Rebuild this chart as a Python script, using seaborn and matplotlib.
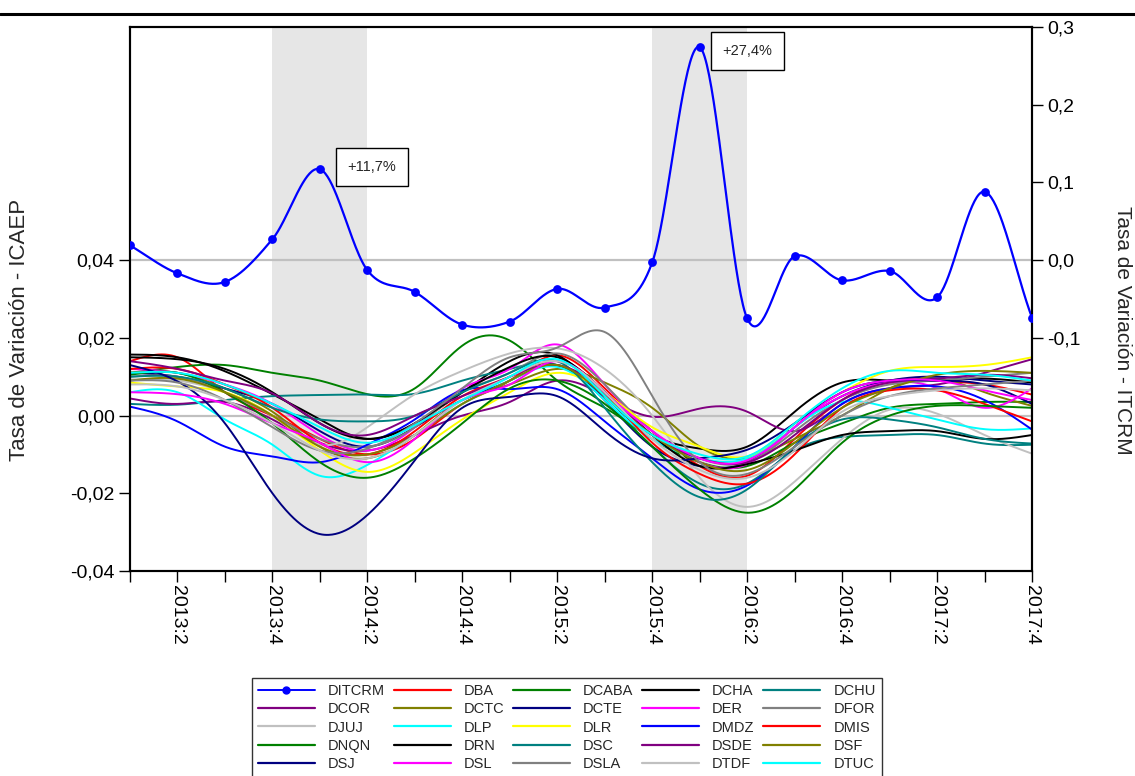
import numpy as np
import pandas as pd
import matplotlib
matplotlib.use("Agg")
import matplotlib.pyplot as plt
from matplotlib.lines import Line2D
from matplotlib.ticker import FuncFormatter, FixedLocator
import seaborn as sns

# ---------------- data ----------------
quarters = ["2013:1", "2013:2", "2013:3", "2013:4", "2014:1", "2014:2", "2014:3", "2014:4",
            "2015:1", "2015:2", "2015:3", "2015:4", "2016:1", "2016:2", "2016:3", "2016:4",
            "2017:1", "2017:2", "2017:3", "2017:4"]

DITCRM = [0.019, -0.017, -0.028, 0.027, 0.117, -0.013, -0.041, -0.083, -0.079, -0.037,
          -0.061, -0.003, 0.274, -0.075, 0.005, -0.026, -0.014, -0.048, 0.088, -0.074]

DBA   = [0.014, 0.015, 0.006, 0.000, -0.006, -0.010, -0.006, 0.003, 0.009, 0.0155, 0.007, -0.004, -0.013, -0.0155, -0.006, 0.004, 0.009, 0.009, 0.008, 0.0054]
DCABA = [0.011, 0.0125, 0.013, 0.011, 0.009, 0.0055, 0.007, 0.018, 0.0193, 0.009, 0.002, -0.006, -0.012, -0.013, -0.007, -0.002, 0.002, 0.003, 0.0035, 0.0035]
DCHA  = [0.0157, 0.015, 0.0114, 0.0055, -0.001, -0.006, -0.002, 0.006, 0.014, 0.0155, 0.005, -0.005, -0.0085, -0.008, 0.001, 0.0085, 0.009, 0.009, 0.0095, 0.0085]
DCHU  = [0.003, 0.0028, 0.004, 0.005, 0.0053, 0.0054, 0.0056, 0.009, 0.012, 0.013, 0.004, -0.008, -0.0175, -0.0175, -0.009, -0.0055, -0.005, -0.005, -0.0072, -0.0075]
DCOR  = [0.0044, 0.003, 0.0035, -0.001, -0.007, -0.009, -0.005, 0.000, 0.0035, 0.009, 0.005, -0.0003, 0.0018, 0.001, -0.004, 0.003, 0.007, 0.008, 0.011, 0.0145]
DCTC  = [0.011, 0.011, 0.007, 0.001, -0.008, -0.011, -0.005, 0.004, 0.008, 0.012, 0.0085, 0.002, -0.008, -0.011, -0.006, 0.000, 0.007, 0.0095, 0.006, 0.0025]
DCTE  = [0.011, 0.010, 0.007, 0.003, -0.004, -0.008, -0.003, 0.004, 0.009, 0.013, 0.004, -0.008, -0.013, -0.012, -0.003, 0.005, 0.009, 0.010, 0.009, 0.008]
DER   = [0.012, 0.011, 0.008, 0.003, -0.005, -0.009, -0.003, 0.007, 0.012, 0.0183, 0.008, -0.004, -0.012, -0.0125, -0.003, 0.005, 0.0085, 0.007, 0.002, 0.007]
DFOR  = [0.010, 0.010, 0.006, 0.000, -0.006, -0.008, -0.003, 0.006, 0.011, 0.016, 0.008, -0.004, -0.011, -0.012, -0.004, 0.004, 0.008, 0.009, 0.010, 0.011]
DJUJ  = [0.0093, 0.009, 0.006, 0.000, -0.0075, -0.003, 0.0055, 0.0115, 0.016, 0.0173, 0.012, 0.000, -0.016, -0.0235, -0.017, -0.006, 0.0015, 0.0005, -0.005, -0.0098]
DLP   = [0.006, 0.006, -0.001, -0.0075, -0.0155, -0.0127, -0.005, 0.003, 0.009, 0.0125, 0.004, -0.006, -0.011, -0.011, -0.003, 0.0035, 0.002, -0.001, -0.0035, -0.0033]
DLR   = [0.0085, 0.0075, 0.006, 0.000, -0.009, -0.0145, -0.0095, -0.001, 0.006, 0.011, 0.006, -0.003, -0.008, -0.0105, -0.002, 0.006, 0.0115, 0.0125, 0.013, 0.015]
DMDZ  = [0.0023, -0.0015, -0.008, -0.0105, -0.012, -0.0075, -0.001, 0.0065, 0.0068, 0.0068, -0.0015, -0.011, -0.019, -0.018, -0.008, 0.003, 0.007, 0.0075, 0.004, -0.0036]
DMIS  = [0.012, 0.012, 0.008, 0.002, -0.007, -0.010, -0.004, 0.005, 0.010, 0.014, 0.006, -0.007, -0.015, -0.0175, -0.010, 0.002, 0.0065, 0.0065, 0.003, -0.0015]
DNQN  = [0.0105, 0.011, 0.006, -0.002, -0.012, -0.016, -0.011, -0.002, 0.007, 0.009, 0.003, -0.008, -0.019, -0.025, -0.019, -0.007, 0.000, 0.0025, 0.0025, 0.002]
DRN   = [0.015, 0.0145, 0.012, 0.006, -0.002, -0.006, -0.002, 0.006, 0.0125, 0.015, 0.006, -0.005, -0.013, -0.0125, -0.009, -0.005, -0.004, -0.004, -0.006, -0.005]
DSC   = [0.010, 0.010, 0.007, 0.002, -0.001, -0.0015, 0.000, 0.006, 0.011, 0.014, 0.002, -0.012, -0.021, -0.019, -0.008, -0.001, -0.001, -0.003, -0.006, -0.0072]
DSDE  = [0.014, 0.012, 0.009, 0.0057, -0.002, -0.005, 0.000, 0.005, 0.010, 0.013, 0.006, -0.005, -0.011, -0.012, -0.005, 0.004, 0.0085, 0.0095, 0.0105, 0.0096]
DSF   = [0.009, 0.0095, 0.006, 0.000, -0.008, -0.010, -0.005, 0.003, 0.009, 0.013, 0.005, -0.005, -0.012, -0.014, -0.007, 0.002, 0.007, 0.0105, 0.0115, 0.011]
DSJ   = [0.013, 0.0088, -0.002, -0.020, -0.0305, -0.0256, -0.0115, 0.002, 0.0048, 0.005, -0.004, -0.011, -0.011, -0.0088, -0.002, 0.006, 0.009, 0.009, 0.008, 0.003]
DSL   = [0.006, 0.0055, 0.003, -0.002, -0.007, -0.012, -0.006, 0.004, 0.008, 0.014, 0.006, -0.004, -0.011, -0.0115, -0.003, 0.006, 0.009, 0.009, 0.0065, 0.004]
DSLA  = [0.009, 0.0085, 0.004, -0.003, -0.009, -0.0085, -0.002, 0.007, 0.015, 0.0175, 0.0215, 0.005, -0.012, -0.015, -0.008, 0.000, 0.005, 0.007, 0.008, 0.009]
DTDF  = [0.008, 0.0075, 0.004, -0.002, -0.009, -0.011, -0.005, 0.004, 0.010, 0.014, 0.006, -0.006, -0.014, -0.016, -0.009, 0.001, 0.005, 0.0065, 0.007, 0.0065]
DTUC  = [0.011, 0.011, 0.008, 0.003, -0.003, -0.007, -0.0025, 0.004, 0.010, 0.0145, 0.005, -0.005, -0.010, -0.0105, -0.002, 0.007, 0.0115, 0.011, 0.0105, 0.009]

regional = {
    "DBA": DBA, "DCABA": DCABA, "DCHA": DCHA, "DCHU": DCHU, "DCOR": DCOR, "DCTC": DCTC,
    "DCTE": DCTE, "DER": DER, "DFOR": DFOR, "DJUJ": DJUJ, "DLP": DLP, "DLR": DLR,
    "DMDZ": DMDZ, "DMIS": DMIS, "DNQN": DNQN, "DRN": DRN, "DSC": DSC, "DSDE": DSDE,
    "DSF": DSF, "DSJ": DSJ, "DSL": DSL, "DSLA": DSLA, "DTDF": DTDF, "DTUC": DTUC,
}

colors = {
    "DITCRM": "#0000ff", "DBA": "#ff0000", "DCABA": "#008000", "DCHA": "#000000",
    "DCHU": "#008080", "DCOR": "#800080", "DCTC": "#808000", "DCTE": "#000080",
    "DER": "#ff00ff", "DFOR": "#808080", "DJUJ": "#c0c0c0", "DLP": "#00ffff",
    "DLR": "#ffff00", "DMDZ": "#0000ff", "DMIS": "#ff0000", "DNQN": "#008000",
    "DRN": "#000000", "DSC": "#008080", "DSDE": "#800080", "DSF": "#808000",
    "DSJ": "#000080", "DSL": "#ff00ff", "DSLA": "#808080", "DTDF": "#c0c0c0",
    "DTUC": "#00ffff",
}

shaded = [(3, 5), (11, 13)]
notes_text = ["+11,7%", "+27,4%"]
notes_at = [(4, 0.117), (12, 0.274)]
notes_box = [(5.1, 0.12), (13.0, 0.269)]


# ---------------- helpers (curve smoothing only) ----------------
def natural_spline(x, y, xs):
    x = np.asarray(x, float)
    y = np.asarray(y, float)
    n = len(x)
    h = np.diff(x)
    A = np.zeros((n, n))
    b = np.zeros(n)
    A[0, 0] = 1
    A[-1, -1] = 1
    for i in range(1, n - 1):
        A[i, i - 1] = h[i - 1]
        A[i, i] = 2 * (h[i - 1] + h[i])
        A[i, i + 1] = h[i]
        b[i] = 6 * ((y[i + 1] - y[i]) / h[i] - (y[i] - y[i - 1]) / h[i - 1])
    M = np.linalg.solve(A, b)
    idx = np.clip(np.searchsorted(x, xs) - 1, 0, n - 2)
    x0, x1 = x[idx], x[idx + 1]
    hh = x1 - x0
    t1 = x1 - xs
    t0 = xs - x0
    return (M[idx] * t1 ** 3 / (6 * hh) + M[idx + 1] * t0 ** 3 / (6 * hh)
            + (y[idx] / hh - M[idx] * hh / 6) * t1 + (y[idx + 1] / hh - M[idx + 1] * hh / 6) * t0)


def catmull_rom(x, y, xs):
    x = np.asarray(x, float)
    y = np.asarray(y, float)
    n = len(x)
    m = np.zeros(n)
    m[1:-1] = (y[2:] - y[:-2]) / (x[2:] - x[:-2])
    m[0] = y[1] - y[0]
    m[-1] = y[-1] - y[-2]
    idx = np.clip(np.searchsorted(x, xs) - 1, 0, n - 2)
    h = x[idx + 1] - x[idx]
    t = (xs - x[idx]) / h
    h00 = 2 * t ** 3 - 3 * t ** 2 + 1
    h10 = t ** 3 - 2 * t ** 2 + t
    h01 = -2 * t ** 3 + 3 * t ** 2
    h11 = t ** 3 - t ** 2
    return h00 * y[idx] + h10 * h * m[idx] + h01 * y[idx + 1] + h11 * h * m[idx + 1]


xq = np.arange(len(quarters))
xs = np.linspace(0, len(quarters) - 1, 800)

rows = []
for name, vals in regional.items():
    ys = natural_spline(xq, vals, xs)
    rows.append(pd.DataFrame({"x": xs, "v": ys, "serie": name}))
df_reg = pd.concat(rows, ignore_index=True)

df_it_line = pd.DataFrame({"x": xs, "v": catmull_rom(xq, DITCRM, xs)})
df_it_pts = pd.DataFrame({"x": xq, "v": DITCRM})

# ---------------- figure ----------------
sns.set_theme(style="white")
plt.rcParams["font.family"] = ["Liberation Sans", "DejaVu Sans"]

fig = plt.figure(figsize=(11.35, 7.76), dpi=100)
ax = fig.add_axes([130 / 1135, 1 - 571 / 776, (1032 - 130) / 1135, (571 - 27) / 776])
ax2 = ax.twinx()

for a, b_ in shaded:
    ax.axvspan(a, b_, color="#e6e6e6", lw=0, zorder=0)
ax.axhline(0, color="#c0c0c0", lw=1.6, zorder=1)
ax2.axhline(0, color="#c0c0c0", lw=1.6, zorder=1)

sns.lineplot(data=df_reg, x="x", y="v", hue="serie", palette=colors, ax=ax,
             legend=False, linewidth=1.4, estimator=None, sort=False, zorder=2)

sns.lineplot(data=df_it_line, x="x", y="v", ax=ax2, color=colors["DITCRM"],
             linewidth=1.6, estimator=None, sort=False, legend=False)
sns.scatterplot(data=df_it_pts, x="x", y="v", ax=ax2, color=colors["DITCRM"],
                s=40, edgecolor=colors["DITCRM"], linewidth=0, legend=False, zorder=5)

for txt, (xa, ya), (xb, yb) in zip(notes_text, notes_at, notes_box):
    ax2.annotate(txt, xy=(xa, ya), xytext=(xb, yb), ha="center", va="center",
                 fontsize=10.5, bbox=dict(boxstyle="square,pad=0.8", fc="white", ec="black", lw=1))

# axes limits / ticks
ax.set_xlim(0, len(quarters) - 1)
ax.set_ylim(-0.04, 0.10)
ax2.set_ylim(-0.4, 0.3)

ax.xaxis.set_major_locator(FixedLocator(xq))
ax.set_xticklabels([q if i % 2 == 1 else "" for i, q in enumerate(quarters)],
                   rotation=-90, fontsize=14, va="top", ha="center")
ax.set_yticks([-0.04, -0.02, 0.0, 0.02, 0.04])
ax.yaxis.set_major_formatter(FuncFormatter(lambda v, p: f"{v:.2f}".replace(".", ",")))
ax2.set_yticks([-0.1, 0.0, 0.1, 0.2, 0.3])
ax2.yaxis.set_major_formatter(FuncFormatter(lambda v, p: f"{v:.1f}".replace(".", ",")))

for a in (ax, ax2):
    a.tick_params(axis="both", direction="out", length=8, width=1, colors="black",
                  labelsize=14, pad=3)
    for s in a.spines.values():
        s.set_color("black")
        s.set_linewidth(1.5)
ax.tick_params(axis="x", pad=2)
ax.tick_params(axis="y", left=True, right=False)
ax2.tick_params(axis="y", right=True, left=False)
ax.tick_params(axis="x", bottom=True)

ax.set_xlabel("")
ax.set_ylabel("Tasa de Variación - ICAEP", fontsize=16)
ax2.set_ylabel("Tasa de Variación - ITCRM", fontsize=15, rotation=-90)
ax.yaxis.set_label_coords(-0.122, 0.443)
ax2.yaxis.set_label_coords(1.100, 0.443)
ax2.yaxis.label.set_va("center")
ax.yaxis.label.set_va("center")

# top rule
fig.add_artist(Line2D([0, 1], [1 - 14 / 776, 1 - 14 / 776], color="black", lw=2.2,
                      transform=fig.transFigure))

# legend (row-major like the original)
names = ["DITCRM"] + list(regional.keys())
handles = []
for n in names:
    if n == "DITCRM":
        handles.append(Line2D([], [], color=colors[n], lw=1.4, marker="o", markersize=5,
                              markevery=[1]))
    else:
        handles.append(Line2D([], [], color=colors[n], lw=1.6))
order = [r * 5 + c for c in range(5) for r in range(5)]
leg = fig.legend([handles[i] for i in order], [names[i] for i in order], ncol=5,
                 loc="upper left", bbox_to_anchor=(252 / 1135, 1 - 678 / 776),
                 frameon=True, fancybox=False, shadow=False, fontsize=10.5,
                 handlelength=3.9, handletextpad=0.9, columnspacing=0.6,
                 labelspacing=0.3, borderpad=0.4, borderaxespad=0)
leg.get_frame().set_edgecolor("black")
leg.get_frame().set_linewidth(1.0)

fig.savefig("out.png", dpi=100)
